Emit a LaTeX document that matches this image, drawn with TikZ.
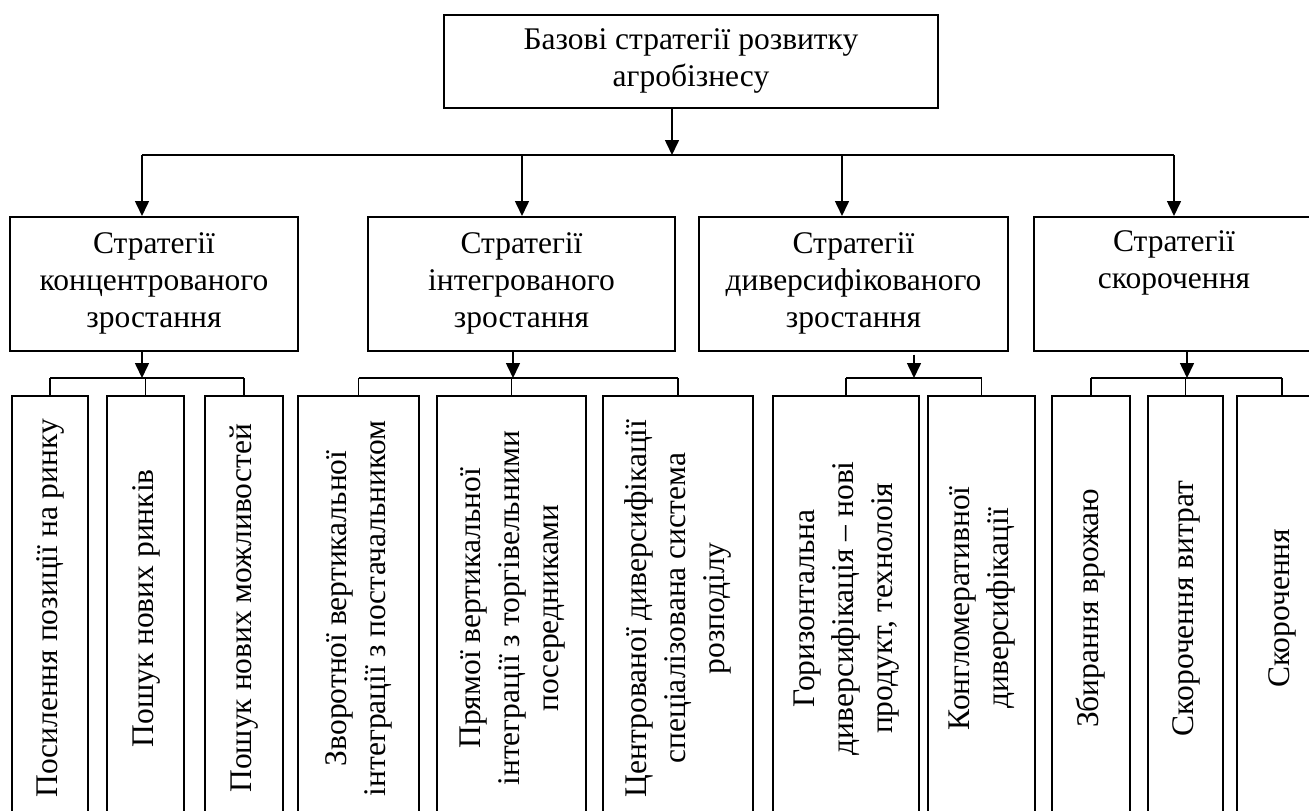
\documentclass[tikz,border=0pt]{standalone}
\usepackage{fontspec}
\setmainfont{Liberation Serif}
\usetikzlibrary{arrows.meta}

\begin{document}
\begin{tikzpicture}[
        x=1pt, y=-1pt,
        box/.style={
            draw,
            line width=1.6pt,
            align=center,
            anchor=north,
            inner sep=0pt,
            font=\fontsize{31.5}{37}\selectfont
        },
        leaf/.style={
            draw,
            line width=1.6pt,
            anchor=north,
            inner sep=0pt,
            minimum height=425pt,
            font=\fontsize{31.5}{39}\selectfont
        },
        link/.style={
            line width=1.6pt
        },
        arr/.style={
            -{Triangle[length=15pt, width=14pt]},
            line width=1.6pt
        }
    ]
        \useasboundingbox (0,0) rectangle (1309,811);
        \clip (0,0) rectangle (1309,811);

        % Root
        \node[box, minimum width=494pt, minimum height=93pt] (top) at (691,14) {Базові стратегії розвитку\\агробізнесу};

        % Strategy groups
        \node[box, minimum width=288pt, minimum height=134pt] (c1) at (154,216) {Стратегії\\концентрованого\\зростання};
        \node[box, minimum width=307pt, minimum height=134pt] (c2) at (521.5,216) {Стратегії\\інтегрованого\\зростання};
        \node[box, minimum width=309pt, minimum height=134pt] (c3) at (853.5,216) {Стратегії\\диверсифікованого\\зростання};
        \node[box, minimum width=280pt, minimum height=134pt] (c4) at (1174,216) {Стратегії\\скорочення\\\strut};

        % Concrete strategies
        \node[leaf, minimum width=76pt] (l1) at (50,395) {\rotatebox{90}{\begin{tabular}{@{}c@{}}Посилення позиції на ринку\end{tabular}}};
        \node[leaf, minimum width=77pt] (l2) at (145.5,395) {\rotatebox{90}{\begin{tabular}{@{}c@{}}Пошук нових ринків\end{tabular}}};
        \node[leaf, minimum width=78pt] (l3) at (244,395) {\rotatebox{90}{\begin{tabular}{@{}c@{}}Пошук нових можливостей\end{tabular}}};
        \node[leaf, minimum width=121pt] (l4) at (358.5,395) {\rotatebox{90}{\begin{tabular}{@{}c@{}}Зворотної вертикальної\\інтеграції з постачальником\end{tabular}}};
        \node[leaf, minimum width=149pt] (l5) at (511.5,395) {\rotatebox{90}{\begin{tabular}{@{}c@{}}Прямої вертикальної\\інтеграції з торгівельними\\посередниками\end{tabular}}};
        \node[leaf, minimum width=150pt] (l6) at (678,395) {\rotatebox{90}{\begin{tabular}{@{}c@{}}Центрованої диверсифікації\\спеціалізована система\\розподілу\end{tabular}}};
        \node[leaf, minimum width=146pt] (l7) at (846,395) {\rotatebox{90}{\begin{tabular}{@{}c@{}}Горизонтальна\\диверсифікація – нові\\продукт, технолоія\end{tabular}}};
        \node[leaf, minimum width=107pt] (l8) at (981.5,395) {\rotatebox{90}{\begin{tabular}{@{}c@{}}Конгломеративної\\диверсифікації\end{tabular}}};
        \node[leaf, minimum width=78pt] (l9) at (1091,395) {\rotatebox{90}{\begin{tabular}{@{}c@{}}Збирання врожаю\end{tabular}}};
        \node[leaf, minimum width=75pt] (l10) at (1185.5,395) {\rotatebox{90}{\begin{tabular}{@{}c@{}}Скорочення витрат\end{tabular}}};
        \node[leaf, minimum width=90pt] (l11) at (1282,395) {\rotatebox{90}{\begin{tabular}{@{}c@{}}Скорочення\end{tabular}}};

        % Root to groups
        \coordinate (j0) at (672,155);
        \coordinate (j1) at (142,155);
        \coordinate (j2) at (522,155);
        \coordinate (j3) at (842,155);
        \coordinate (j4) at (1174,155);
        \draw[arr] (top.south -| j0) -- (j0);
        \draw[link] (j1) -- (j4);
        \foreach \i in {1,...,4} {
            \draw[arr] (j\i) -- (j\i |- c\i.north);
        }

        % Groups to concrete strategies
        \coordinate (k1) at (142,378);
        \coordinate (k2) at (513,378);
        \coordinate (k3) at (914,378);
        \coordinate (k4) at (1187,378);
        \draw[arr] (c1.south -| k1) -- (k1);
        \draw[arr] (c2.south -| k2) -- (k2);
        \draw[arr, shorten <=3pt] (c3.south -| k3) -- (k3);
        \draw[arr] (c4.south -| k4) -- (k4);
        \draw[link] (l1.north |- k1) -- (l3.north |- k1);
        \draw[link] (l4.north |- k2) -- (l6.north |- k2);
        \draw[link] (l7.north |- k3) -- (l8.north |- k3);
        \draw[link] (l9.north |- k4) -- (l11.north |- k4);
        \foreach \n/\k in {l1/k1,l2/k1,l3/k1,l4/k2,l5/k2,l6/k2,l7/k3,l8/k3,l9/k4,l10/k4,l11/k4} {
            \draw[link] (\n.north |- \k) -- (\n.north);
        }
    \end{tikzpicture}
\end{document}
